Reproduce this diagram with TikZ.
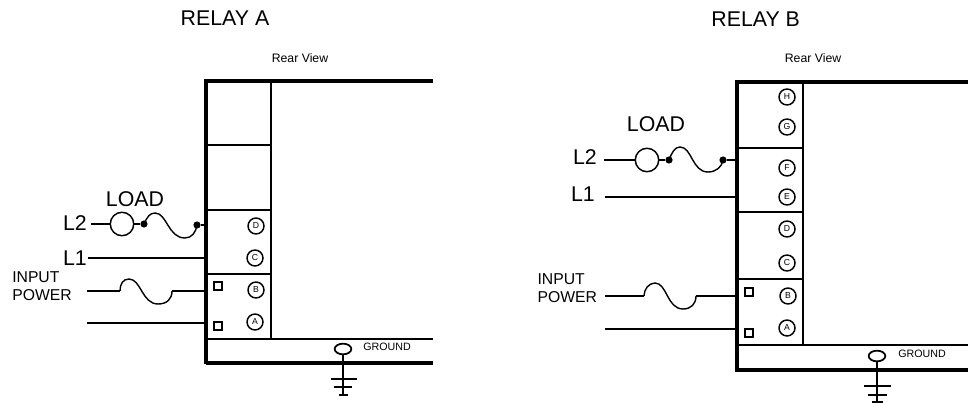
\documentclass[tikz,border=0pt]{standalone}
\usepackage{fontspec}
\setmainfont{Liberation Sans}
\usetikzlibrary{shapes.geometric}
\begin{document}
\begin{tikzpicture}[x=0.75pt,y=-0.75pt,line join=miter,
  thin line/.style={line width=1.5pt},
  wire/.style={line width=1.5pt},
  fuse/.style={line width=1.05pt},
  term/.style={circle,draw,line width=1.1pt,minimum size=12pt,inner sep=0pt,font=\fontsize{6.5}{7}\selectfont},
  sq/.style={rectangle,draw,line width=1.2pt,minimum size=5.8pt,inner sep=0pt},
  lamp/.style={circle,draw,line width=1.1pt,minimum size=17.6pt,inner sep=0pt},
  dot/.style={circle,fill,minimum size=5.4pt,inner sep=0pt},
  gnd/.style={ellipse,draw,line width=1.3pt,minimum width=12.5pt,minimum height=8pt,inner sep=0pt},
  big/.style={font=\fontsize{16}{18}\selectfont,inner sep=0pt},
  mid/.style={font=\fontsize{11.8}{13.1}\selectfont,inner sep=0pt,align=left},
  small/.style={font=\fontsize{9.2}{11}\selectfont,inner sep=0pt},
  tiny/.style={font=\fontsize{8}{9}\selectfont,inner sep=0pt}]
\useasboundingbox (0,0) rectangle (968,403);
% ---------- RELAY A
\node[big] (ta) at (225,18.500) {RELAY A};
\node[small] (ra) at (300,58) {Rear View};
\draw[thin line] (271,81) -- (271,339);
\draw[thin line] (206,145) -- (271,145);
\draw[thin line] (206,210) -- (271,210);
\draw[thin line] (206,274) -- (271,274);
\draw[thin line] (206,339) -- (433,339);
\draw[line width=3.2pt] (433,81) -- (206,81) -- (206,364);
\draw[line width=2.8pt] (206,363) -- (433,363);
\node[term] (aD) at (256,226) {D};
\node[term] (aC) at (255,258) {C};
\node[term] (aB) at (256,290) {B};
\node[term] (aA) at (255,322) {A};
\node[sq] (as1) at (218,286) {};
\node[sq] (as2) at (218,326) {};
% load
\node[big] (la) at (135,199) {LOAD};
\node[big,anchor=east] (l2a) at (87,223) {L2};
\node[big,anchor=east] (l1a) at (87,258) {L1};
\coordinate (l2as) at (91,224);
\coordinate (l1as) at (88,258);
\coordinate (l1ae) at (206,258);
\node[lamp] (ca) at (122,224) {};
\node[dot] (d1a) at (144,224) {};
\node[dot] (d2a) at (197,225) {};
\coordinate (l2ae) at (206,225);
\draw[wire] (l2as) -- (ca);
\draw[wire] (ca) -- (d1a);
\draw[fuse] (d1a.center) .. controls (147,217) and (150,213) .. (155,213) .. controls (167,213) and (168,238) .. (185,238) .. controls (192,238) and (196,232) .. (d2a.center);
\draw[wire] (d2a) -- (l2ae);
\draw[wire] (l1as) -- (l1ae);
\node[mid,anchor=west] (ipa) at (12,286) {INPUT\\POWER};
\coordinate (ia1) at (87,291);
\coordinate (ia2) at (120,291);
\coordinate (ia3) at (172,291);
\coordinate (ia4) at (206,291);
\coordinate (ib1) at (87,323);
\coordinate (ib2) at (206,323);
\draw[wire] (ia1) -- (ia2);
\draw[fuse] (ia2) .. controls (120,284) and (123,279) .. (129,279) .. controls (141,279) and (142,304) .. (158,304) .. controls (167,304) and (172,299) .. (ia3);
\draw[wire] (ia3) -- (ia4);
\draw[wire] (ib1) -- (ib2);
% ground
\node[gnd] (ga) at (343,349) {};
\node[tiny] (gta) at (387,347) {GROUND};
\coordinate (gae) at (343,395);
\draw[wire] (ga) -- (gae);
\draw[wire] (331,379) -- (357,379);
\draw[wire] (334,387) -- (352,387);
\draw[wire] (339,395) -- (348,395);
% ---------- RELAY B
\node[big] (tb) at (755.700,19) {RELAY B};
\node[small] (rb) at (813,58) {Rear View};
\draw[thin line] (803,82) -- (803,345);
\draw[thin line] (737,148) -- (803,148);
\draw[thin line] (737,212) -- (803,212);
\draw[thin line] (737,279) -- (803,279);
\draw[thin line] (737,345) -- (968,345);
\draw[line width=3.2pt] (968,82) -- (737,82) -- (737,372);
\draw[line width=2.8pt] (737,370) -- (968,370);
\node[term] (bH) at (787,97) {H};
\node[term] (bG) at (787,127) {G};
\node[term] (bF) at (787,168) {F};
\node[term] (bE) at (787,197) {E};
\node[term] (bD) at (787,229) {D};
\node[term] (bC) at (787,263) {C};
\node[term] (bB) at (788,296) {B};
\node[term] (bA) at (787,328) {A};
\node[sq] (bs1) at (749,292) {};
\node[sq] (bs2) at (749,333) {};
\node[big] (lb) at (656,124) {LOAD};
\node[big,anchor=east] (l2b) at (597,157) {L2};
\node[big,anchor=east] (l1b) at (595,194) {L1};
\coordinate (l2bs) at (604,160);
\coordinate (l1bs) at (605,197);
\coordinate (l1be) at (737,197);
\node[lamp] (cb) at (647,160) {};
\node[dot] (d1b) at (669,160) {};
\node[dot] (d2b) at (723,160) {};
\coordinate (l2be) at (737,160);
\draw[wire] (l2bs) -- (cb);
\draw[wire] (cb) -- (d1b);
\draw[fuse] (d1b.center) .. controls (672,152) and (675,147) .. (680,147) .. controls (692,147) and (692,172) .. (708,172) .. controls (716,172) and (722,167) .. (d2b.center);
\draw[wire] (d2b) -- (l2be);
\draw[wire] (l1bs) -- (l1be);
\node[mid,anchor=west] (ipb) at (537.300,288) {INPUT\\POWER};
\coordinate (ja1) at (605,296);
\coordinate (ja2) at (644,296);
\coordinate (ja3) at (696,296);
\coordinate (ja4) at (737,296);
\coordinate (jb1) at (605,329);
\coordinate (jb2) at (737,329);
\draw[wire] (ja1) -- (ja2);
\draw[fuse] (ja2) .. controls (644,289) and (649,283) .. (655,283) .. controls (667,283) and (667,309) .. (683,309) .. controls (691,309) and (696,304) .. (ja3);
\draw[wire] (ja3) -- (ja4);
\draw[wire] (jb1) -- (jb2);
\node[gnd] (gb) at (877,356) {};
\node[tiny] (gtb) at (922,354) {GROUND};
\coordinate (gbe) at (877,403);
\draw[wire] (gb) -- (gbe);
\draw[wire] (864,386) -- (891,386);
\draw[wire] (868,395) -- (887,395);
\draw[wire] (872,402) -- (883,402);
\end{tikzpicture}
\end{document}
